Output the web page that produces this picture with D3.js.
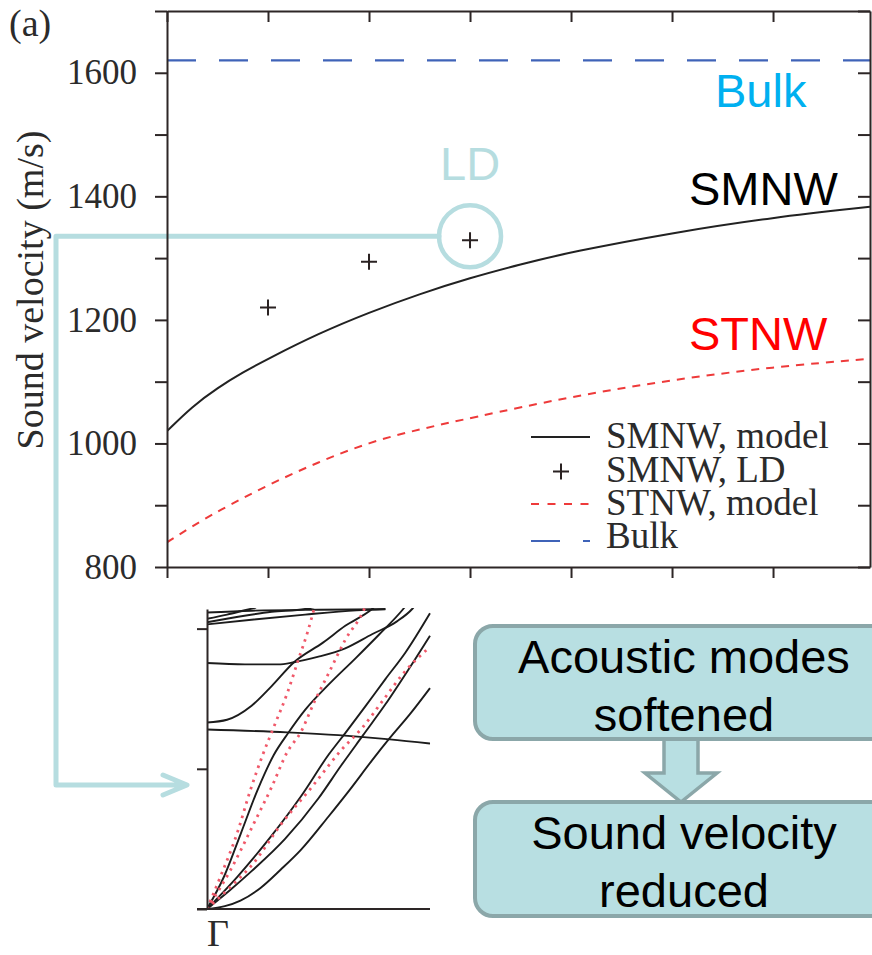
<!DOCTYPE html>
<html>
<head>
<meta charset="utf-8">
<script src="https://cdn.jsdelivr.net/npm/d3@7"></script>
<style>
    body { margin: 0; background: #fff; }
    svg { display: block; }
    .serif { font-family: "Liberation Serif", "Times New Roman", serif; }
    .sans { font-family: "Liberation Sans", Arial, sans-serif; }
</style>
</head>
<body>
<div id="chart"></div>
<script>
// main panel: sound velocity (m/s) against wire size (x tick labels are cropped off)
const diameter = [0, 0.25, 0.5, 0.75, 1, 1.5, 2, 2.5, 3, 3.5, 4, 5, 6, 6.96]
const smnwModel = [1020, 1060, 1090, 1115, 1137, 1178, 1212, 1242, 1268, 1290, 1310, 1341, 1366, 1383]
const stnwDiameter = [0, 0.25, 0.5, 1, 1.5, 2, 2.5, 3, 4, 5, 6, 6.96]
const stnwModel = [840, 866, 890, 933, 970, 1002, 1023, 1041, 1076, 1103, 1124, 1137]
const ldDiameter = [1, 2, 3]
const smnwLD = [1220, 1294, 1329]
const bulkVelocity = 1620
const velocityTicks = [800, 900, 1000, 1100, 1200, 1300, 1400, 1500, 1600, 1700]
const diameterTicks = [0, 1, 2, 3, 4, 5, 6]
const legendLabels = ['SMNW, model', 'SMNW, LD', 'STNW, model', 'Bulk']

// inset: phonon branches, [k, frequency] pairs
const blackBands = [
    [[0, 1.28], [0.36, 1.26], [0.59, 1.24], [0.82, 1.21], [1, 1.18]],
    [[0, 1.33], [0.09, 1.35], [0.2, 1.45], [0.29, 1.59], [0.39, 1.76], [0.52, 1.9], [0.62, 2.02], [0.74, 2.14], [0.78, 2.2]],
    [[0, 1.755], [0.17, 1.745], [0.32, 1.745], [0.39, 1.76], [0.5, 1.8], [0.62, 1.86], [0.74, 1.96], [0.85, 2.05], [0.92, 2.14], [0.95, 2.2]],
    [[0, 2.115], [0.2, 2.128], [0.5, 2.135], [0.8, 2.138]],
    [[0, 2.045], [0.14, 2.085], [0.29, 2.12], [0.44, 2.14], [0.5, 2.16]],
    [[0, 2.03], [0.21, 2.065], [0.44, 2.1], [0.67, 2.13], [0.8, 2.14]],
    [[0, 2.07], [0.09, 2.1], [0.18, 2.135], [0.22, 2.15]],
    [[0, 0], [0.076, 0.23], [0.152, 0.54], [0.227, 0.85], [0.3, 1.1], [0.364, 1.255], [0.44, 1.42], [0.545, 1.6], [0.667, 1.79], [0.773, 1.96], [0.88, 2.14], [0.9, 2.18]],
    [[0, 0], [0.136, 0.23], [0.288, 0.52], [0.424, 0.81], [0.545, 1.1], [0.62, 1.255], [0.71, 1.445], [0.8, 1.64], [0.89, 1.83], [1, 2.11]],
    [[0, 0], [0.1, 0.13], [0.2, 0.27], [0.35, 0.5], [0.5, 0.79], [0.6, 1.02], [0.7, 1.24], [0.8, 1.46], [0.9, 1.7], [1, 1.95]],
    [[0, 0], [0.08, 0.02], [0.15, 0.06], [0.24, 0.15], [0.33, 0.28], [0.42, 0.42], [0.545, 0.66], [0.64, 0.85], [0.74, 1.06], [0.82, 1.22], [0.91, 1.39], [1, 1.576]],
]
const redBands = [
    [[0, 0], [0.06, 0.23], [0.135, 0.54], [0.195, 0.85], [0.25, 1.1], [0.3, 1.3], [0.36, 1.54], [0.41, 1.78], [0.45, 1.97], [0.48, 2.14], [0.49, 2.2]],
    [[0, 0], [0.106, 0.28], [0.21, 0.61], [0.29, 0.87], [0.36, 1.12], [0.42, 1.26], [0.485, 1.49], [0.545, 1.68], [0.62, 1.92], [0.705, 2.14], [0.72, 2.2]],
    [[0, 0], [0.1, 0.15], [0.21, 0.33], [0.33, 0.6], [0.47, 0.87], [0.6, 1.13], [0.7, 1.3], [0.79, 1.49], [0.88, 1.68], [1, 1.87]],
]
const insetTicks = [0, 1, 2]

const boxLines = [['Acoustic modes', 'softened'], ['Sound velocity', 'reduced']]

const axisColor = '#2d2626'
const teal = '#b6dde0'

const svg = d3.select('#chart').append('svg')
    .attr('width', 872)
    .attr('height', 955)

svg.append('rect').attr('width', 872).attr('height', 955).attr('fill', '#fff')

// ---------- main panel ----------
const x = d3.scaleLinear().domain([0, 6.96]).range([167, 870])
const y = d3.scaleLinear().domain([800, 1700]).range([567, 11])

svg.append('clipPath').attr('id', 'plotClip')
    .append('rect').attr('x', 167).attr('y', 11).attr('width', 703).attr('height', 556)

// LD connector (drawn under the axes)
const ldX = x(ldDiameter[2])
const ldY = y(smnwLD[2]) - 4
svg.append('path')
    .attr('d', `M${ldX - 31},${ldY} H56 V785 H185 M163,775 L187,785 L163,795`)
    .attr('fill', 'none')
    .attr('stroke', teal)
    .attr('stroke-width', 5)
    .attr('stroke-linejoin', 'round')
    .attr('stroke-linecap', 'round')

const plot = svg.append('g').attr('clip-path', 'url(#plotClip)')

plot.append('line')
    .attr('x1', x(0)).attr('x2', x(6.96))
    .attr('y1', y(bulkVelocity)).attr('y2', y(bulkVelocity))
    .attr('stroke', '#3f63b8')
    .attr('stroke-width', 2.2)
    .attr('stroke-dasharray', '29,23')

const velLine = d3.line().curve(d3.curveBasis)

plot.append('path')
    .attr('d', velLine(stnwDiameter.map((d, i) => [x(d), y(stnwModel[i])])))
    .attr('fill', 'none')
    .attr('stroke', '#ee3a3a')
    .attr('stroke-width', 2)
    .attr('stroke-dasharray', '8,7')

plot.append('path')
    .attr('d', velLine(diameter.map((d, i) => [x(d), y(smnwModel[i])])))
    .attr('fill', 'none')
    .attr('stroke', '#222')
    .attr('stroke-width', 2)

plot.selectAll('.ld')
    .data(ldDiameter)
    .enter()
        .append('path')
            .attr('transform', (d, i) => `translate(${x(d)},${y(smnwLD[i])})`)
            .attr('d', 'M-8,0H8M0,-8V8')
            .attr('stroke', '#2a2222')
            .attr('stroke-width', 2)

svg.append('circle')
    .attr('cx', ldX).attr('cy', ldY).attr('r', 31)
    .attr('fill', 'none')
    .attr('stroke', teal)
    .attr('stroke-width', 4.5)

function styleAxis(g) {
    g.select('.domain').attr('stroke', axisColor).attr('stroke-width', 2)
    g.selectAll('.tick line').attr('stroke', axisColor).attr('stroke-width', 2)
}

svg.append('g')
    .attr('transform', 'translate(167,0)')
    .call(d3.axisLeft(y).tickValues(velocityTicks).tickSize(12).tickSizeOuter(0).tickPadding(18)
        .tickFormat(d => d % 200 === 0 && d < 1700 ? d : ''))
    .call(styleAxis)
    .call(g => g.selectAll('text')
        .attr('class', 'serif')
        .attr('font-size', 35)
        .attr('fill', '#2b2b2b'))

svg.append('g')
    .attr('transform', 'translate(870,0)')
    .call(d3.axisRight(y).tickValues(velocityTicks).tickSize(-12).tickSizeOuter(0).tickFormat(''))
    .call(styleAxis)

svg.append('g')
    .attr('transform', 'translate(0,567)')
    .call(d3.axisBottom(x).tickValues(diameterTicks).tickSize(11).tickSizeOuter(0).tickFormat(''))
    .call(styleAxis)

svg.append('g')
    .attr('transform', 'translate(0,11)')
    .call(d3.axisTop(x).tickValues(diameterTicks).tickSize(-11).tickSizeOuter(0).tickFormat(''))
    .call(styleAxis)

svg.append('text')
    .attr('class', 'serif')
    .attr('transform', 'translate(43,290) rotate(-90)')
    .attr('text-anchor', 'middle')
    .attr('font-size', 38)
    .attr('fill', '#2b2b2b')
    .text('Sound velocity (m/s)')

svg.append('text')
    .attr('class', 'serif')
    .attr('x', 9).attr('y', 36)
    .attr('font-size', 38)
    .attr('fill', '#2b2b2b')
    .text('(a)')

// legend
const legend = svg.append('g').attr('class', 'serif')
const legendY = [448, 482, 515, 548]
legend.selectAll('text')
    .data(legendLabels)
    .enter()
        .append('text')
            .attr('x', 606)
            .attr('y', (d, i) => legendY[i])
            .attr('font-size', 37)
            .attr('fill', '#2b2b2b')
            .text(d => d)

legend.append('line').attr('x1', 531).attr('x2', 590).attr('y1', 437).attr('y2', 437)
    .attr('stroke', '#222').attr('stroke-width', 2)
legend.append('path').attr('d', 'M553,471.5H569M561,463.5V479.5')
    .attr('stroke', '#2a2222').attr('stroke-width', 2)
legend.append('line').attr('x1', 531).attr('x2', 590).attr('y1', 504).attr('y2', 504)
    .attr('stroke', '#ee3a3a').attr('stroke-width', 2).attr('stroke-dasharray', '8,8.5')
legend.append('line').attr('x1', 531).attr('x2', 590).attr('y1', 541).attr('y2', 541)
    .attr('stroke', '#3f63b8').attr('stroke-width', 2.2).attr('stroke-dasharray', '29,23')

// big annotations
const notes = [
    { text: 'Bulk', x: 715, y: 107, color: '#00b0f0' },
    { text: 'SMNW', x: 689, y: 205, color: '#000' },
    { text: 'STNW', x: 689, y: 350, color: '#ff0000' },
    { text: 'LD', x: 440, y: 180, color: teal },
]
svg.selectAll('.note')
    .data(notes)
    .enter()
        .append('text')
            .attr('class', 'sans')
            .attr('x', d => d.x)
            .attr('y', d => d.y)
            .attr('font-size', 47)
            .attr('fill', d => d.color)
            .text(d => d.text)

// ---------- inset: dispersion ----------
const kx = d3.scaleLinear().domain([0, 1]).range([207, 430])
const fy = d3.scaleLinear().domain([0, 2.14]).range([909, 609])

svg.append('clipPath').attr('id', 'insetClip')
    .append('rect').attr('x', 207).attr('y', 608).attr('width', 224).attr('height', 302)

const inset = svg.append('g').attr('clip-path', 'url(#insetClip)')
const bandLine = d3.line().x(d => kx(d[0])).y(d => fy(d[1])).curve(d3.curveMonotoneX)

inset.selectAll('.black')
    .data(blackBands)
    .enter()
        .append('path')
            .attr('d', bandLine)
            .attr('fill', 'none')
            .attr('stroke', '#1c1c1c')
            .attr('stroke-width', 1.9)

inset.selectAll('.red')
    .data(redBands)
    .enter()
        .append('path')
            .attr('d', bandLine)
            .attr('fill', 'none')
            .attr('stroke', '#f0596a')
            .attr('stroke-width', 2.8)
            .attr('stroke-dasharray', '2.5,5')

svg.append('g')
    .attr('transform', 'translate(207,0)')
    .call(d3.axisLeft(fy).tickValues(insetTicks).tickSize(10).tickSizeOuter(0).tickFormat(''))
    .call(styleAxis)

svg.append('line')
    .attr('x1', 197).attr('x2', 430)
    .attr('y1', fy(0)).attr('y2', fy(0))
    .attr('stroke', axisColor).attr('stroke-width', 2)

svg.append('text')
    .attr('class', 'serif')
    .attr('x', 218).attr('y', 946)
    .attr('text-anchor', 'middle')
    .attr('font-size', 38)
    .attr('fill', '#2b2b2b')
    .text('Γ')

// ---------- flow boxes ----------
const boxTop = [626, 802]
const boxHeight = [113, 114]
const flow = svg.append('g')

flow.append('path')
    .attr('d', 'M664,737 V773 H645 L681,802 L717,773 H698 V737 Z')
    .attr('fill', '#b8dfe2')
    .attr('stroke', '#8ba7a9')
    .attr('stroke-width', 3.5)
    .attr('stroke-linejoin', 'miter')

flow.selectAll('rect')
    .data(boxLines)
    .enter()
        .append('rect')
            .attr('x', 475)
            .attr('y', (d, i) => boxTop[i])
            .attr('width', 430)
            .attr('height', (d, i) => boxHeight[i])
            .attr('rx', 18)
            .attr('fill', '#b8dfe2')
            .attr('stroke', '#8ba7a9')
            .attr('stroke-width', 4)

boxLines.forEach((lines, i) => {
    lines.forEach((line, j) => {
        flow.append('text')
            .attr('class', 'sans')
            .attr('x', 684)
            .attr('y', boxTop[i] + 47 + j * 58)
            .attr('text-anchor', 'middle')
            .attr('font-size', 47)
            .attr('fill', '#000')
            .text(line)
    })
})
</script>
</body>
</html>
